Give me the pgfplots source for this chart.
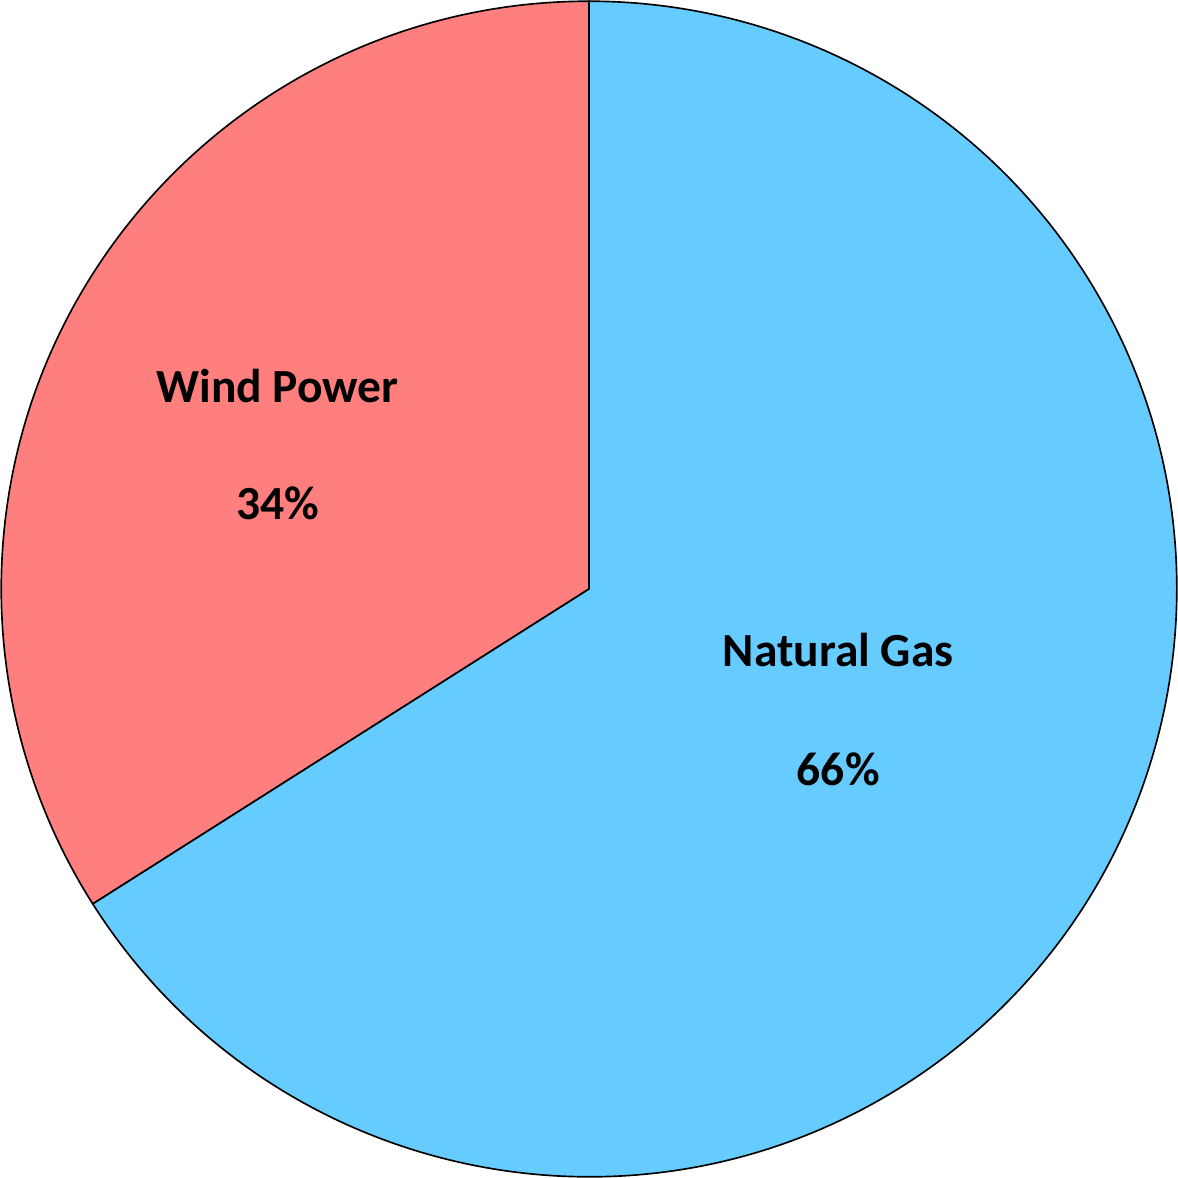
\documentclass[border=0pt]{standalone}
\usepackage{pgfplots}
\pgfplotsset{compat=1.18}
\usepackage{pgfplotstable}
\usepackage{fontspec}
\setmainfont{Carlito}

\definecolor{windc}{HTML}{FF7F7F}
\definecolor{gasc}{HTML}{66CCFF}

% share of each source, percent
\pgfplotstableread[col sep=comma]{
label,value
Wind Power,34
Natural Gas,66
}\piedata

\begin{document}
\begin{tikzpicture}
  \pgfplotstablegetelem{0}{value}\of\piedata
  \pgfmathsetmacro{\wend}{90+3.6*\pgfplotsretval}
  \pgfmathsetmacro{\wx}{cos(\wend)}
  \pgfmathsetmacro{\wy}{sin(\wend)}
  \begin{axis}[
    width=10cm, height=10cm,
    scale only axis,
    hide axis,
    xmin=-1, xmax=1,
    ymin=-1, ymax=1,
    clip=false,
  ]
  % wind wedge, counterclockwise from the top
  \filldraw[fill=windc, draw=black, line width=0.4pt]
    (axis cs:0,0) -- (axis cs:0,1) arc[start angle=90, end angle=\wend, radius=1] -- cycle;
  % natural gas wedge, the rest of the circle
  \filldraw[fill=gasc, draw=black, line width=0.4pt]
    (axis cs:0,0) -- (axis cs:\wx,\wy) arc[start angle=\wend, end angle=450, radius=1] -- cycle;

  \node[font=\fontsize{11.5}{13}\selectfont\bfseries] at (axis cs:-0.530,0.346) {Wind Power};
  \node[font=\fontsize{11.5}{13}\selectfont\bfseries] at (axis cs:-0.530,0.145) {34\%};
  \node[font=\fontsize{11.5}{13}\selectfont\bfseries] at (axis cs:0.424,-0.104) {Natural Gas};
  \node[font=\fontsize{11.5}{13}\selectfont\bfseries] at (axis cs:0.424,-0.307) {66\%};

  \coordinate (bl) at (axis cs:-1,-1);
  \coordinate (tr) at (axis cs:1,1);
  \end{axis}
  \pgfresetboundingbox
  \path[use as bounding box] ([shift={(-0.3pt,-0.3pt)}]bl) rectangle ([shift={(0.3pt,0.3pt)}]tr);
\end{tikzpicture}
\end{document}
